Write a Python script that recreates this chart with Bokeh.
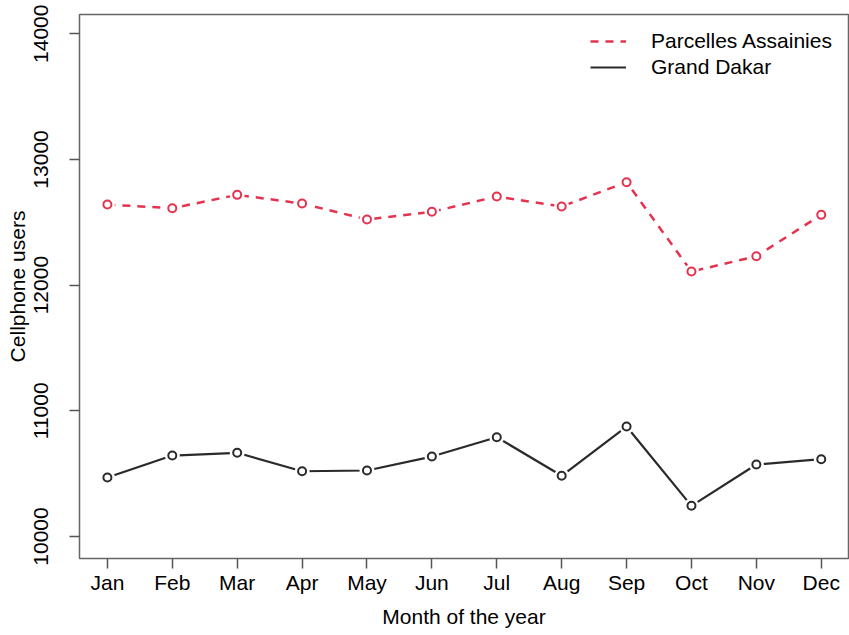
from bokeh.plotting import figure
from bokeh.models import Range1d, FixedTicker, Legend, LegendItem, ColumnDataSource
from bokeh.embed import file_html
from bokeh.resources import INLINE

months = ["Jan", "Feb", "Mar", "Apr", "May", "Jun", "Jul", "Aug", "Sep", "Oct", "Nov", "Dec"]
parcelles = [12641, 12612, 12718, 12649, 12522, 12583, 12705, 12625, 12819, 12108, 12230, 12559]
grand_dakar = [10469, 10644, 10666, 10519, 10525, 10636, 10790, 10483, 10875, 10244, 10573, 10615]
y_ticks = [10000, 11000, 12000, 13000, 14000]
series_names = ["Parcelles Assainies", "Grand Dakar"]

x = list(range(1, len(months) + 1))
src = ColumnDataSource(dict(x=x, p=parcelles, g=grand_dakar))

FONT = "Liberation Sans"
RED = "#e4324f"
DARK = "#2a2a2a"

p = figure(width=849, height=635, output_backend="svg", toolbar_location=None,
           x_range=Range1d(0.57, 12.42), y_range=Range1d(9825, 14153),
           min_border_left=79, min_border_right=1, min_border_top=14, min_border_bottom=77)

p.xgrid.visible = False
p.ygrid.visible = False
p.outline_line_color = "#666666"
p.outline_line_width = 1.5
p.background_fill_color = "white"
p.border_fill_color = "white"

red_line = p.line("x", "p", source=src, line_color=RED, line_width=2.5, line_dash="8 7")
blk_line = p.line("x", "g", source=src, line_color=DARK, line_width=2.2)
for col, c in (("p", RED), ("g", DARK)):
    p.scatter("x", col, source=src, marker="circle", size=15, fill_color="white", line_color=None)
    p.scatter("x", col, source=src, marker="circle", size=8, fill_color=None, line_color=c, line_width=2)

xa = p.xaxis[0]
xa.ticker = FixedTicker(ticks=x)
xa.major_label_overrides = {i: m for i, m in zip(x, months)}
xa.axis_label = "Month of the year"

ya = p.yaxis[0]
ya.ticker = FixedTicker(ticks=y_ticks)
ya.axis_label = "Cellphone users"
ya.major_label_orientation = "parallel"

for ax in (xa, ya):
    ax.axis_line_color = None
    ax.major_tick_line_color = "#555555"
    ax.major_tick_line_width = 1.5
    ax.major_tick_out = 10
    ax.major_tick_in = 0
    ax.minor_tick_line_color = None
    ax.major_label_text_font = FONT
    ax.major_label_text_font_size = "21px"
    ax.major_label_text_color = "black"
    ax.axis_label_text_font = FONT
    ax.axis_label_text_font_size = "21px"
    ax.axis_label_text_font_style = "normal"
    ax.axis_label_text_color = "black"

xa.major_label_standoff = 2
xa.axis_label_standoff = 8
ya.major_label_standoff = 21
ya.axis_label_standoff = 3

legend = Legend(items=[LegendItem(label=series_names[0], renderers=[red_line]),
                       LegendItem(label=series_names[1], renderers=[blk_line])],
                location=(511, 478), orientation="vertical")
legend.border_line_color = None
legend.background_fill_alpha = 0
legend.padding = 0
legend.margin = 0
legend.spacing = 0
legend.glyph_width = 36
legend.glyph_height = 26
legend.label_height = 26
legend.label_standoff = 25
legend.label_text_font = FONT
legend.label_text_font_size = "21px"
legend.label_text_color = "black"
p.add_layout(legend, "center")

open("out.html", "w").write(file_html(p, INLINE))
